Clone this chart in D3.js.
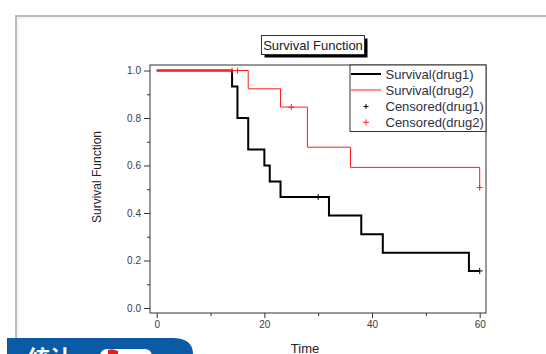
<!DOCTYPE html>
<html>
<head>
<meta charset="utf-8">
<script src="https://cdn.jsdelivr.net/npm/d3@7/dist/d3.min.js"></script>
<style>
  html, body { margin: 0; padding: 0; background: #fff; }
  svg { display: block; font-family: "Liberation Sans", Arial, sans-serif; }
</style>
</head>
<body>
<svg id="chart" width="546" height="354"></svg>
<script>
// Kaplan-Meier estimates, step points (time, survival)
const drug1Times = [0, 14, 15, 17, 20, 21, 23, 32, 38, 42, 58, 60];
const drug1Surv  = [1, 0.933, 0.8, 0.667, 0.6, 0.533, 0.467, 0.389, 0.311, 0.233, 0.156, 0.156];
const drug2Times = [0, 17, 23, 28, 36, 60];
const drug2Surv  = [1, 0.923, 0.846, 0.677, 0.592, 0.507];

// Censored observations
const drug1CensorTimes = [30, 60];
const drug1CensorSurv  = [0.467, 0.156];
const drug2CensorTimes = [14, 15, 25, 60];
const drug2CensorSurv  = [1, 1, 0.846, 0.507];

// Axis ticks
const xTicks = [0, 20, 40, 60];
const xMinorTicks = [10, 30, 50];
const yTicks = [0, 0.2, 0.4, 0.6, 0.8, 1.0];
const yMinorTicks = [0.1, 0.3, 0.5, 0.7, 0.9];

const legendLabels = ["Survival(drug1)", "Survival(drug2)", "Censored(drug1)", "Censored(drug2)"];

const svg = d3.select("#chart");

// Window frame
svg.append("line").attr("x1", 15).attr("x2", 546).attr("y1", 16).attr("y2", 16)
  .attr("stroke", "#bdbdbd").attr("stroke-width", 2);
svg.append("line").attr("x1", 16).attr("x2", 16).attr("y1", 15).attr("y2", 354)
  .attr("stroke", "#bdbdbd").attr("stroke-width", 2);
svg.append("line").attr("x1", 17).attr("x2", 546).attr("y1", 18).attr("y2", 18)
  .attr("stroke", "#ececec").attr("stroke-width", 1);
svg.append("line").attr("x1", 18).attr("x2", 18).attr("y1", 17).attr("y2", 354)
  .attr("stroke", "#ececec").attr("stroke-width", 1);

const frame = { left: 150, right: 486, top: 65, bottom: 313 };

const x = d3.scaleLinear().domain([0, 60]).range([156.7, 479.7]);
const y = d3.scaleLinear().domain([0, 1]).range([308, 70.5]);

// Axes (ticks outward)
const axisColor = "#333";
const gx = svg.append("g").attr("transform", `translate(0,${frame.bottom})`)
  .call(d3.axisBottom(x).tickValues(xTicks).tickSize(5).tickPadding(3).tickFormat(d3.format("d")));
const gxm = svg.append("g").attr("transform", `translate(0,${frame.bottom})`)
  .call(d3.axisBottom(x).tickValues(xMinorTicks).tickSize(3).tickFormat(""));
const gy = svg.append("g").attr("transform", `translate(${frame.left},0)`)
  .call(d3.axisLeft(y).tickValues(yTicks).tickSize(6).tickPadding(3).tickFormat(d3.format(".1f")));
const gym = svg.append("g").attr("transform", `translate(${frame.left},0)`)
  .call(d3.axisLeft(y).tickValues(yMinorTicks).tickSize(3).tickFormat(""));

[gx, gxm, gy, gym].forEach(g => {
  g.select(".domain").remove();
  g.selectAll(".tick line").attr("stroke", axisColor);
  g.selectAll(".tick text").attr("fill", "#3a3a48").attr("font-size", 10)
    .attr("font-family", "'Liberation Sans', Arial, sans-serif");
});

// Plot frame
svg.append("rect")
  .attr("x", frame.left).attr("y", frame.top)
  .attr("width", frame.right - frame.left).attr("height", frame.bottom - frame.top)
  .attr("fill", "none").attr("stroke", "#333").attr("stroke-width", 1);

// Survival curves
const step = d3.line().curve(d3.curveStepAfter).x(d => x(d[0])).y(d => y(d[1]));
const drug1 = drug1Times.map((t, i) => [t, drug1Surv[i]]);
const drug2 = drug2Times.map((t, i) => [t, drug2Surv[i]]);

svg.append("path").datum(drug1).attr("d", step)
  .attr("fill", "none").attr("stroke", "#000").attr("stroke-width", 2);
svg.append("path").datum(drug2).attr("d", step)
  .attr("fill", "none").attr("stroke", "#ff2020").attr("stroke-width", 1);

// Censor marks drawn as plus signs
function plus(g, cx, cy, color, h) {
  g.append("line").attr("x1", cx - h).attr("x2", cx + h).attr("y1", cy).attr("y2", cy)
    .attr("stroke", color).attr("stroke-width", 1);
  g.append("line").attr("x1", cx).attr("x2", cx).attr("y1", cy - h).attr("y2", cy + h)
    .attr("stroke", color).attr("stroke-width", 1);
}
const marks = svg.append("g");
drug1CensorTimes.forEach((t, i) => plus(marks, x(t), y(drug1CensorSurv[i]), "#000", 3));
drug2CensorTimes.forEach((t, i) => plus(marks, x(t), y(drug2CensorSurv[i]), "#ff2020", 3));

// Legend
const legend = svg.append("g");
legend.append("rect").attr("x", 350).attr("y", frame.top)
  .attr("width", frame.right - 350).attr("height", 66.5)
  .attr("fill", "#fff").attr("stroke", "#333").attr("stroke-width", 1);
const rowY = [74, 90, 106.5, 122.3];
legend.append("line").attr("x1", 351).attr("x2", 381).attr("y1", rowY[0]).attr("y2", rowY[0])
  .attr("stroke", "#000").attr("stroke-width", 2);
legend.append("line").attr("x1", 351).attr("x2", 381).attr("y1", rowY[1]).attr("y2", rowY[1])
  .attr("stroke", "#ff2020").attr("stroke-width", 1);
plus(legend, 366, rowY[2], "#000", 2.5);
plus(legend, 366, rowY[3], "#ff2020", 3);
legend.selectAll("text.lg").data(legendLabels).join("text")
  .attr("class", "lg")
  .attr("x", 385.5).attr("y", (d, i) => rowY[i] + 4.6)
  .attr("font-size", 13).attr("fill", "#2f2f3f")
  .text(d => d);

// Title box with drop shadow
svg.append("rect").attr("x", 264.5).attr("y", 38.5).attr("width", 103).attr("height", 19)
  .attr("fill", "#000");
svg.append("rect").attr("x", 261.5).attr("y", 35.5).attr("width", 103).attr("height", 19)
  .attr("fill", "#fff").attr("stroke", "#333").attr("stroke-width", 1);
svg.append("text").attr("x", 313).attr("y", 50).attr("text-anchor", "middle")
  .attr("font-size", 13).attr("fill", "#222").text("Survival Function");

// Axis titles
svg.append("text").attr("transform", "translate(101,177) rotate(-90)")
  .attr("text-anchor", "middle").attr("font-size", 12).attr("fill", "#222")
  .text("Survival Function");
svg.append("text").attr("x", 305).attr("y", 352.5).attr("text-anchor", "middle")
  .attr("font-size", 13).attr("fill", "#222").text("Time");

// Site badge in the lower-left corner
const badge = svg.append("g");
badge.append("path")
  .attr("d", "M7,354 L7,338 L172,338 Q193,338 193,354 Z")
  .attr("fill", "#0b5aa6");
badge.append("text").attr("x", 28).attr("y", 366).attr("font-size", 22)
  .attr("font-weight", "bold").attr("fill", "#fff")
  .attr("font-family", "'Noto Sans CJK SC', sans-serif").text("统计");
badge.append("rect").attr("x", 100).attr("y", 349).attr("width", 52).attr("height", 16)
  .attr("rx", 7).attr("fill", "#fff");
badge.append("path").attr("d", "M108,354 L108,350 Q112,348 118,351 L118,354 Z")
  .attr("fill", "#e0201c");
</script>
</body>
</html>
